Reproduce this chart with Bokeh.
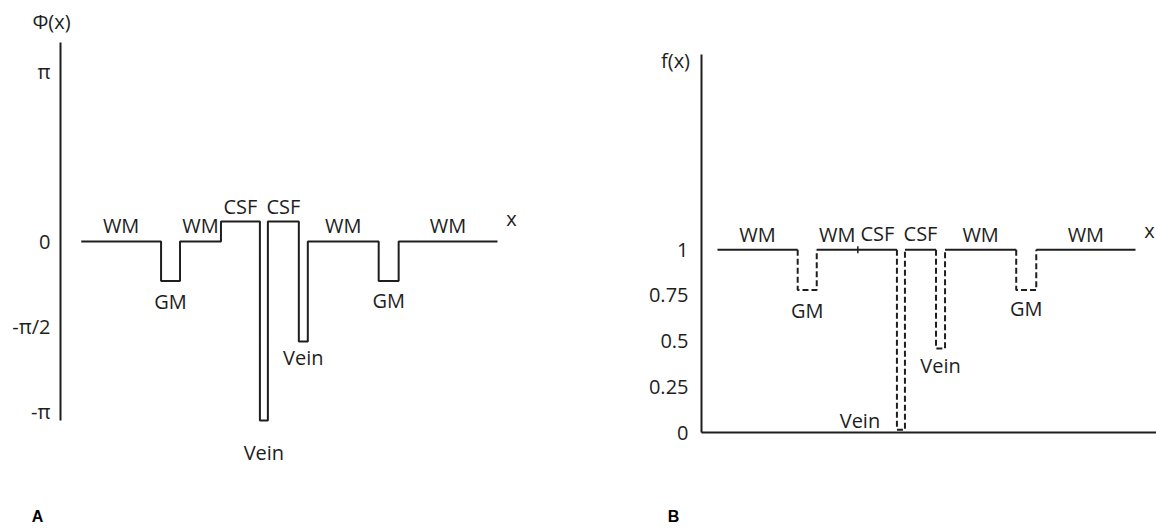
import math
from bokeh.plotting import figure
from bokeh.layouts import row
from bokeh.models import Range1d, FixedTicker, LinearAxis, ColumnDataSource
from bokeh.core.properties import value
from bokeh.embed import file_html
from bokeh.resources import INLINE

# ---------------- data ----------------
x_edges = [0, 80, 99, 140, 179, 187, 218, 227, 298, 318, 417]
tissues = ["WM", "GM", "WM", "CSF", "Vein", "CSF", "Vein", "WM", "GM", "WM"]
phase = [0, -0.73, 0, 0.37, -3.31, 0.37, -1.85, 0, -0.73, 0]          # radians
signal = [1, 0.78, 1, 1, 0.015, 1, 0.46, 1, 0.78, 1]                  # f(x)
phi_ticks = [-math.pi, -math.pi / 2, 0, math.pi]
phi_tick_labels = ["-π", "-π/2", "0", "π"]
f_ticks = [0, 0.25, 0.5, 0.75, 1]
f_tick_labels = ["0", "0.25", "0.5", "0.75", "1"]

# ---------------- style ----------------
FONT = "Open Sans"
FS = "20px"
INK = "#1e1e1e"
LW = 2
PI = math.pi
H = 529

# label offsets (pixels) for each tissue label
left_dx = [0, 0, 0, 0, 0, 0, 0, 0, 0, 0]
left_dy = [-16, 20, -16, -15, 32, -15, 16, -16, 19, -16]
right_dx = [0, 0, 0, 0, -41, 0, 0, 0, 0, 0]
right_dy = [-15, 21, -15, -16, -9, -16, 17, -15, 19, -15]


def step_path(edges, vals):
    xs, ys = [], []
    for i, v in enumerate(vals):
        xs += [edges[i], edges[i + 1]]
        ys += [v, v]
    return xs, ys


def make_axis(loc, bounds, ticks=None, labels=None, standoff=10):
    ax = LinearAxis(fixed_location=loc, bounds=bounds)
    ax.ticker = FixedTicker(ticks=ticks or [])
    if ticks:
        ax.major_label_overrides = dict(zip(ticks, labels))
    else:
        ax.major_label_text_font_size = "0px"
    ax.major_tick_line_color = None
    ax.minor_tick_line_color = None
    ax.major_tick_in = 0
    ax.major_tick_out = 0
    ax.major_label_standoff = standoff
    ax.major_label_text_font = FONT
    ax.major_label_text_font_size = FS if ticks else "0px"
    ax.major_label_text_color = INK
    ax.axis_line_width = LW
    ax.axis_line_color = INK
    return ax


def base_fig(width, xr, yr):
    p = figure(width=width, height=H, x_range=xr, y_range=yr,
               x_axis_location=None, y_axis_location=None,
               toolbar_location=None, output_backend="svg",
               min_border=0)
    p.grid.visible = False
    p.outline_line_color = None
    p.background_fill_color = "white"
    p.border_fill_color = "white"
    return p


def txt(p, x, y, t, **kw):
    opts = dict(text_font=value(FONT), text_font_size=value(FS),
                text_color=INK, text_align="center", text_baseline="middle")
    opts.update(kw)
    p.text(x=x, y=y, text=t, **opts)


centers = [(x_edges[i] + x_edges[i + 1]) / 2 for i in range(len(tissues))]

# ================= panel A =================
K = 170 / PI    # px per radian
Y0 = 241        # px of phase 0
SX_A = 0.9983   # px per x unit
X0_A = 80.7     # px of x = 0
pA = base_fig(620,
              Range1d(-X0_A / SX_A, (620 - X0_A) / SX_A),
              Range1d(-(H - Y0) / K, Y0 / K))
axA = make_axis((60 - X0_A) / SX_A, (min(phase), (Y0 - 42) / K),
                phi_ticks, phi_tick_labels, 10)
pA.add_layout(axA, "left")

xa, ya = step_path(x_edges, phase)
pA.line(xa, ya, line_width=LW, line_color=INK)

srcA = ColumnDataSource(dict(x=centers, y=phase, t=tissues,
                             dx=left_dx, dy=left_dy))
pA.text(x="x", y="y", text="t", x_offset="dx", y_offset="dy", source=srcA,
        text_font=value(FONT), text_font_size=value(FS), text_color=INK,
        text_align="center", text_baseline="middle")
txt(pA, [x_edges[-1] + 14], [0], ["x"], y_offset=-23)
txt(pA, [(51 - X0_A) / SX_A], [(Y0 - 21) / K], ["Φ(x)"])
txt(pA, [(37 - X0_A) / SX_A], [-(516 - Y0) / K], ["A"],
    text_font=value("Liberation Sans"), text_font_style="bold",
    text_font_size=value("16px"), text_color="black")

# ================= panel B =================
SC = 182.7      # px per unit of f
F0 = 432        # px of f = 0
SX_B = 1.0024
X0_B = 717 - 620
pB = base_fig(536,
              Range1d(-X0_B / SX_B, (536 - X0_B) / SX_B),
              Range1d(-(H - F0) / SC, F0 / SC))
ax_left = (701 - 620 - X0_B) / SX_B
pB.add_layout(make_axis(ax_left, (0, (F0 - 54) / SC),
                        f_ticks, f_tick_labels, 13), "left")
pB.add_layout(make_axis(0, (ax_left, (536 - X0_B) / SX_B)), "below")

solid_x, solid_y, dash_x, dash_y = [], [], [], []
for i, v in enumerate(signal):
    x0, x1 = x_edges[i], x_edges[i + 1]
    if v >= 1:
        solid_x.append([x0, x1])
        solid_y.append([v, v])
    else:
        dash_x.append([x0, x0, x1, x1])
        dash_y.append([1, v, v, 1])
pB.multi_line(solid_x, solid_y, line_width=LW, line_color=INK)
pB.multi_line(dash_x, dash_y, line_width=LW, line_color=INK, line_dash="6 3")
# boundary marker between WM and CSF
pB.scatter([x_edges[3]], [1], marker="dash", angle=PI / 2, size=7,
           line_color=INK, line_width=1.5)

srcB = ColumnDataSource(dict(x=centers, y=signal, t=tissues,
                             dx=right_dx, dy=right_dy))
pB.text(x="x", y="y", text="t", x_offset="dx", y_offset="dy", source=srcB,
        text_font=value(FONT), text_font_size=value(FS), text_color=INK,
        text_align="center", text_baseline="middle")
txt(pB, [x_edges[-1] + 14], [1], ["x"], y_offset=-19)
txt(pB, [(675 - 717) / SX_B], [(F0 - 60) / SC], ["f(x)"])
txt(pB, [(673 - 717) / SX_B], [-(516 - F0) / SC], ["B"],
    text_font=value("Liberation Sans"), text_font_style="bold",
    text_font_size=value("16px"), text_color="black")

layout = row(pA, pB, spacing=0)
open("out.html", "w").write(file_html(layout, INLINE))
